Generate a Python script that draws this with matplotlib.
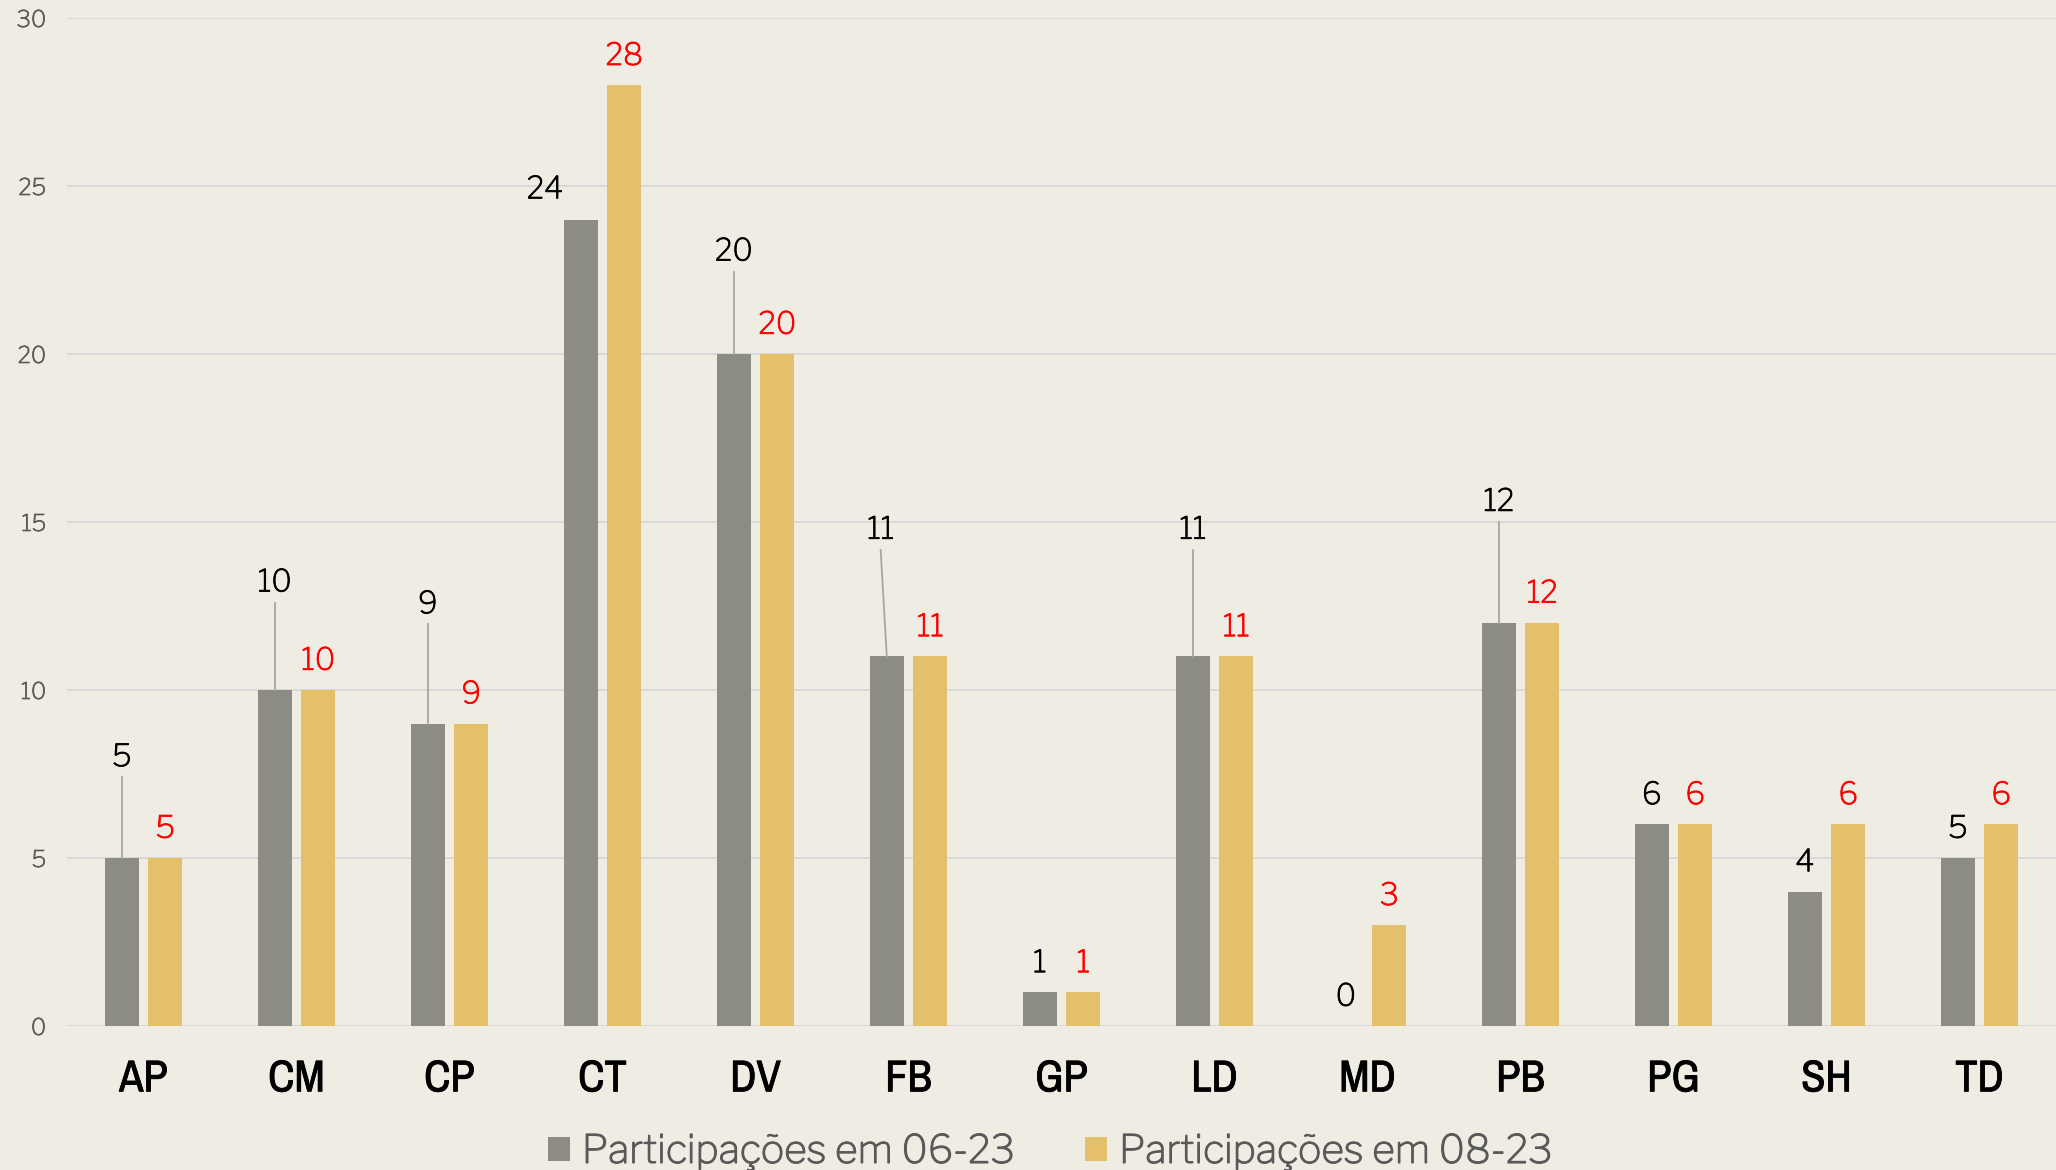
import matplotlib
matplotlib.use("Agg")
import numpy as np
import matplotlib.pyplot as plt
import matplotlib.patheffects as pe
from matplotlib.patches import Patch

categories = ["AP", "CM", "CP", "CT", "DV", "FB", "GP", "LD", "MD", "PB", "PG", "SH", "TD"]
part_06_23 = [5, 10, 9, 24, 20, 11, 1, 11, 0, 12, 6, 4, 5]
part_08_23 = [5, 10, 9, 28, 20, 11, 1, 11, 3, 12, 6, 6, 6]
series_names = ["Participações em 06-23", "Participações em 08-23"]

# labels of the first series that were dragged up (category -> (x shift, label y, leader line))
lifted = {
    "AP": (0.0, 8.0, True),
    "CM": (0.0, 13.2, True),
    "CP": (0.0, 12.55, True),
    "CT": (-0.235, 24.9, False),
    "DV": (0.0, 23.05, True),
    "FB": (-0.04, 14.77, True),
    "LD": (0.0, 14.77, True),
    "PB": (0.0, 15.6, True),
}

BG = "#EFECE4"
GRAY = "#8C8C85"
GOLD = "#E5C06B"
SANS = ["Libre Franklin", "Liberation Sans", "DejaVu Sans"]
NARROW = ["Archivo Narrow", "Liberation Sans", "DejaVu Sans"]


def thicker(color, lw=0.6):
    # the variable Franklin face comes out light, give it a bit of body
    return [pe.withStroke(linewidth=lw, foreground=color)]


fig = plt.figure(figsize=(20.56, 11.70), dpi=100, facecolor=BG)
ax = fig.add_axes([67 / 2056, 1 - 1026 / 1170, 1 - 67 / 2056, (1026 - 18) / 1170])
ax.set_facecolor(BG)

x = np.arange(len(categories))
w = 0.225
off = 0.142
ax.bar(x - off, part_06_23, w, color=GRAY, zorder=3)
ax.bar(x + off, part_08_23, w, color=GOLD, zorder=3)

ax.set_xlim(-0.5, len(categories) - 0.5)
ax.set_ylim(0, 30)
ax.set_yticks(range(0, 31, 5))
ax.grid(axis="y", color="#D9D9D9", linewidth=1.5, zorder=0)
for s in ax.spines.values():
    s.set_visible(False)
ax.tick_params(axis="y", length=0, pad=15, labelsize=16.5, labelcolor="#595959")
ax.tick_params(axis="x", length=0, pad=24)
for lbl in ax.get_yticklabels():
    lbl.set_family(SANS)
    lbl.set_path_effects(thicker("#595959", 0.5))
ax.set_xticks(x)
ax.set_xticklabels(categories, fontsize=32, fontweight="bold", family=NARROW)
for lbl in ax.get_xticklabels():
    lbl.set_path_effects(thicker("black", 0.6))

for i, (c, v) in enumerate(zip(categories, part_06_23)):
    bx = i - off
    if c in lifted:
        dx, ly, line = lifted[c]
        if line:
            ax.plot([bx, bx + dx], [v, ly - 0.6], color="#A6A6A6", lw=1.3, zorder=4)
    else:
        dx, ly = 0.0, v + 0.87
    ax.text(bx + dx, ly, str(v), ha="center", va="center", fontsize=22,
            color="black", family=SANS, zorder=5, path_effects=thicker("black"))

for i, v in enumerate(part_08_23):
    ax.text(i + off, v + 0.87, str(v), ha="center", va="center", fontsize=22,
            color="#FF0000", family=SANS, zorder=5, path_effects=thicker("#FF0000"))

handles = [Patch(facecolor=GRAY, edgecolor="none"), Patch(facecolor=GOLD, edgecolor="none")]
leg = fig.legend(handles, series_names, loc="upper left", bbox_to_anchor=(548 / 2056, 1 - 1134 / 1170),
                 ncol=2, frameon=False, borderpad=0, borderaxespad=0, prop={"family": SANS, "size": 28.2},
                 labelcolor="#595959", handlelength=0.56, handleheight=0.56, handletextpad=0.3,
                 columnspacing=1.8)
for t in leg.get_texts():
    t.set_path_effects(thicker("#595959", 0.8))

fig.savefig("out.png", dpi=100, facecolor=BG)
